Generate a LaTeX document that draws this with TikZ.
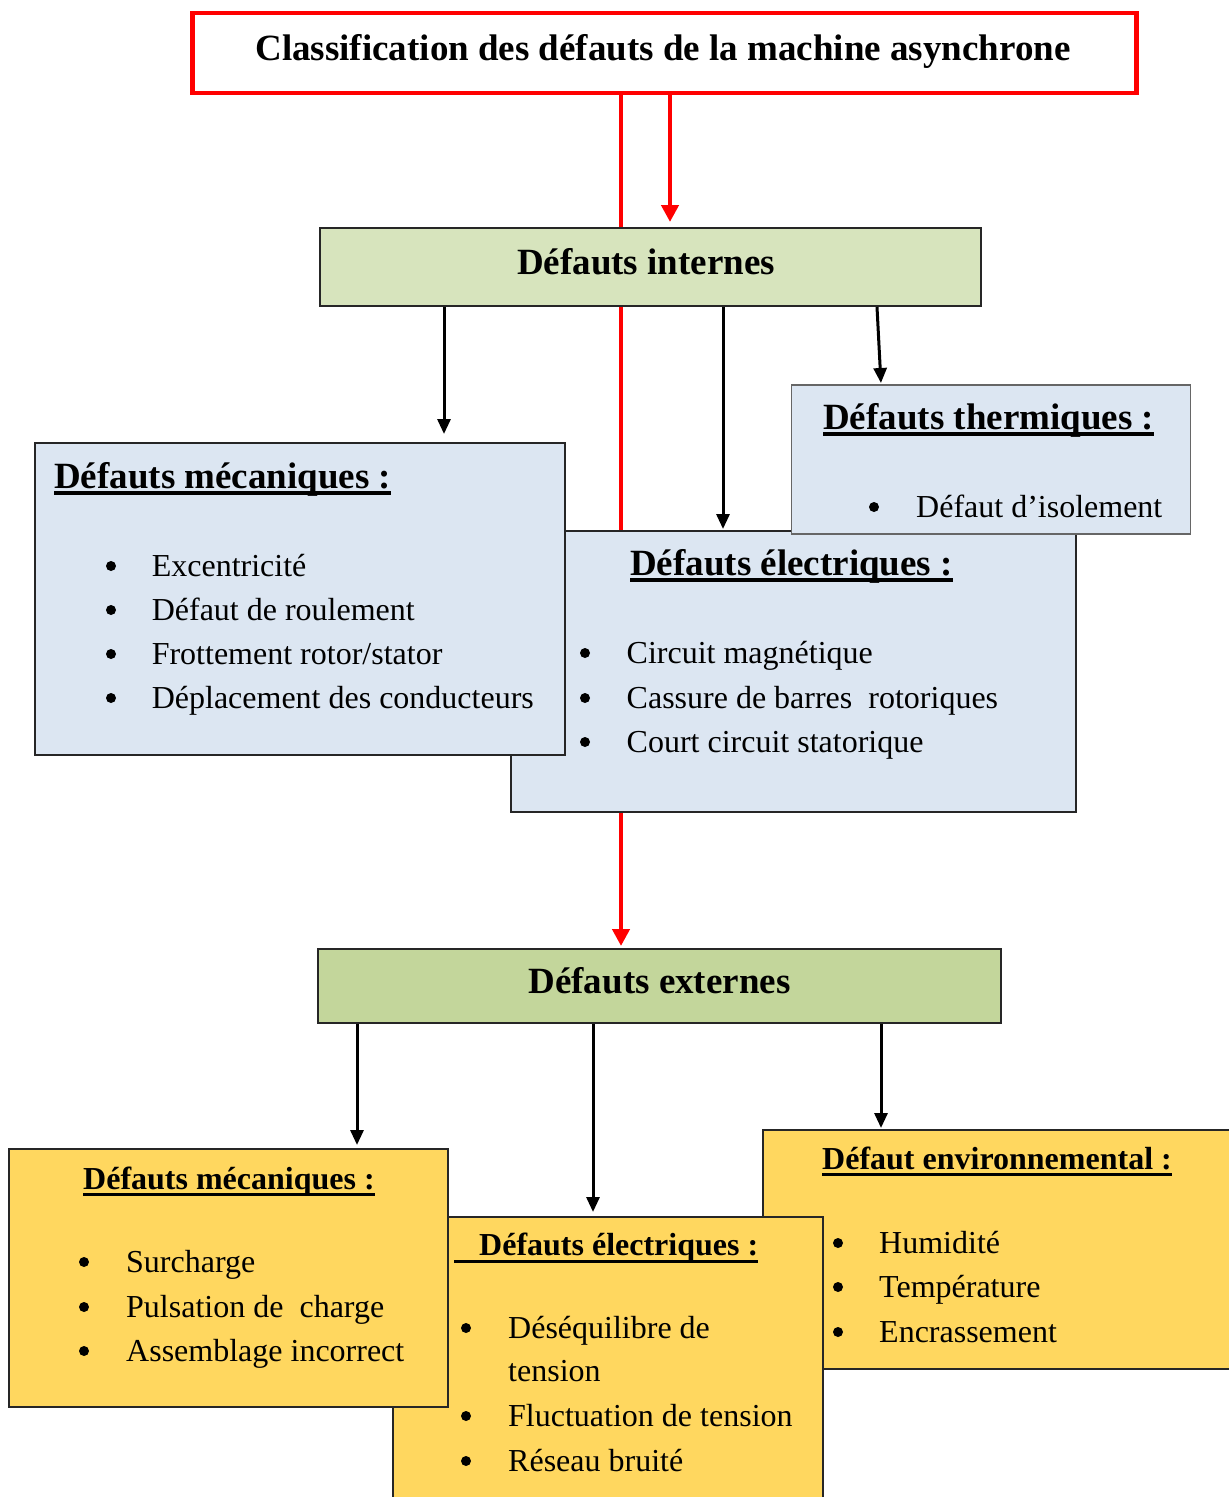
\documentclass[tikz,border=0pt]{standalone}
\usepackage{fontspec}
\setmainfont{Liberation Serif}
\usetikzlibrary{arrows.meta,calc}
\definecolor{titleRed}{RGB}{255,0,0}
\definecolor{blueFill}{RGB}{220,230,242}
\definecolor{greenLight}{RGB}{215,228,189}
\definecolor{greenDark}{RGB}{195,214,155}
\definecolor{goldFill}{RGB}{255,215,95}
\begin{document}
\begin{tikzpicture}[x=1pt,y=-1pt,
  box/.style={draw=black!85, line width=1.6pt, rectangle, inner sep=0pt, anchor=north west},
  bigtxt/.style={font=\fontsize{37}{44}\selectfont\bfseries, inner sep=0pt, anchor=base},
  head/.style={font=\fontsize{37}{44}\selectfont\bfseries, inner sep=0pt, anchor=base west},
  subhead/.style={font=\fontsize{32}{38}\selectfont\bfseries, inner sep=0pt, anchor=base west},
  item/.style={font=\fontsize{32}{38}\selectfont, inner sep=0pt, anchor=base west},
  dot/.style={circle, fill=black, inner sep=0pt, minimum size=10pt, yshift=10pt},
  ulthick/.style={line width=3.5pt},
  ulthin/.style={line width=3pt},
  blk/.style={draw=black, line width=3pt, -{Triangle[length=15pt,width=13pt]}},
  redarrow/.style={draw=titleRed, line width=4.5pt, -{Triangle[length=17pt,width=17pt]}}
]
\useasboundingbox (0,0) rectangle (1229,1497);
\clip (0,0) rectangle (1229,1497);

% column positions of the connectors
\coordinate (x357) at (357,0);
\coordinate (x444) at (444,0);
\coordinate (x593) at (593,0);
\coordinate (x621) at (621,0);
\coordinate (x670) at (670,0);
\coordinate (x723) at (723,0);
\coordinate (x877) at (877,0);
\coordinate (x881) at (881,0);

% title and the two main categories
\node[draw=titleRed, line width=4.5pt, fill=white, minimum width=944pt, minimum height=80pt, inner sep=0pt, anchor=north west] (title) at (190,10.5) {};
\node[bigtxt] (titleTxt) at (663,60) {Classification des défauts de la machine asynchrone};

\node[box, fill=greenDark, line width=2pt, minimum width=683pt, minimum height=74pt] (externes) at (317,948) {};
\node[bigtxt] (externesTxt) at (659.5,993) {Défauts externes};

% long red link, running behind the boxes
\draw[redarrow, shorten >=2pt] (title.south -| x621) -- (externes.north -| x621);

\node[box, fill=greenLight, line width=2pt, minimum width=661pt, minimum height=78pt] (internes) at (319,227) {};
\node[bigtxt] (internesTxt) at (646,274) {Défauts internes};

\draw[redarrow, shorten >=5pt] (title.south -| x670) -- (internes.north -| x670);

% internal faults
\node[box, fill=blueFill, minimum width=565pt, minimum height=281pt] (elecI) at (510,530) {};
\node[box, fill=blueFill, minimum width=530pt, minimum height=312pt] (mecaI) at (34,442) {};
\node[box, fill=blueFill, draw=black!60, minimum width=399pt, minimum height=149pt] (therm) at (790.6,384) {};

\draw[blk, shorten >=8pt] (internes.south -| x444) -- (mecaI.north -| x444);
\draw[blk, shorten >=1pt] (internes.south -| x723) -- (elecI.north -| x723);
\draw[blk, shorten >=1pt] (internes.south -| x877) -- (therm.north -| x881);

\node[head] (hMecaI) at (54,488) {Défauts mécaniques :};
\draw[ulthick] ([yshift=-5pt]hMecaI.base west) -- ([yshift=-5pt]hMecaI.base east);
\node[dot] (bM1) at (111,576) {};
\node[item] (tM1) at (151.6,576) {Excentricité};
\node[dot] (bM2) at (111,620) {};
\node[item] (tM2) at (151.6,620) {Défaut de roulement};
\node[dot] (bM3) at (111,664) {};
\node[item] (tM3) at (151.6,664) {Frottement rotor/stator};
\node[dot] (bM4) at (111,708) {};
\node[item] (tM4) at (151.6,708) {Déplacement des conducteurs};

\node[head] (hElecI) at (630,575) {Défauts électriques :};
\draw[ulthick] ([yshift=-5pt]hElecI.base west) -- ([yshift=-5pt]hElecI.base east);
\node[dot] (bE1) at (585,663) {};
\node[item] (tE1) at (626.5,663) {Circuit magnétique};
\node[dot] (bE2) at (585,708) {};
\node[item] (tE2) at (626.5,708) {Cassure de barres\hspace{0.25em} rotoriques};
\node[dot] (bE3) at (585,752) {};
\node[item] (tE3) at (626.5,752) {Court circuit statorique};

\node[head] (hTherm) at (823,429) {Défauts thermiques :};
\draw[ulthick] ([yshift=-5pt]hTherm.base west) -- ([yshift=-5pt]hTherm.base east);
\node[dot] (bT1) at (874,517) {};
\node[item] (tT1) at (916,517) {Défaut d’isolement};

% external faults
\node[box, fill=goldFill, minimum width=480pt, minimum height=239pt] (env) at (762,1129) {};
\node[box, fill=goldFill, minimum width=430pt, minimum height=300pt] (elecE) at (392,1216) {};
\node[box, fill=goldFill, minimum width=439pt, minimum height=258pt] (mecaE) at (8,1148) {};

\draw[blk, shorten >=3pt] (externes.south -| x357) -- (mecaE.north -| x357);
\draw[blk, shorten >=4pt] (externes.south -| x593) -- (elecE.north -| x593);
\draw[blk, shorten >=1pt] (externes.south -| x881) -- (env.north -| x881);

\node[subhead] (hMecaE) at (83,1189) {Défauts mécaniques :};
\draw[ulthin] ([yshift=-5pt]hMecaE.base west) -- ([yshift=-5pt]hMecaE.base east);
\node[dot] (bm1) at (84,1272) {};
\node[item] (tm1) at (126,1272) {Surcharge};
\node[dot] (bm2) at (84,1317) {};
\node[item] (tm2) at (126,1317) {Pulsation de\hspace{0.25em} charge};
\node[dot] (bm3) at (84,1361) {};
\node[item] (tm3) at (126,1361) {Assemblage incorrect};

\node[subhead] (hElecE) at (479,1255) {Défauts électriques :};
\draw[ulthin] ([xshift=-25pt,yshift=-6pt]hElecE.base west) -- ([yshift=-6pt]hElecE.base east);
\node[dot] (be1) at (466,1338) {};
\node[item] (te1) at (508,1338) {Déséquilibre de};
\node[item] (te1b) at (508,1381) {tension};
\node[dot] (be2) at (466,1426) {};
\node[item] (te2) at (508,1426) {Fluctuation de tension};
\node[dot] (be3) at (466,1471) {};
\node[item] (te3) at (508,1471) {Réseau bruité};

\node[subhead] (hEnv) at (822,1169) {Défaut environnemental :};
\draw[ulthin] ([yshift=-5pt]hEnv.base west) -- ([yshift=-5pt]hEnv.base east);
\node[dot] (bv1) at (838,1253) {};
\node[item] (tv1) at (879,1253) {Humidité};
\node[dot] (bv2) at (838,1297) {};
\node[item] (tv2) at (879,1297) {Température};
\node[dot] (bv3) at (838,1342) {};
\node[item] (tv3) at (879,1342) {Encrassement};
\end{tikzpicture}
\end{document}
